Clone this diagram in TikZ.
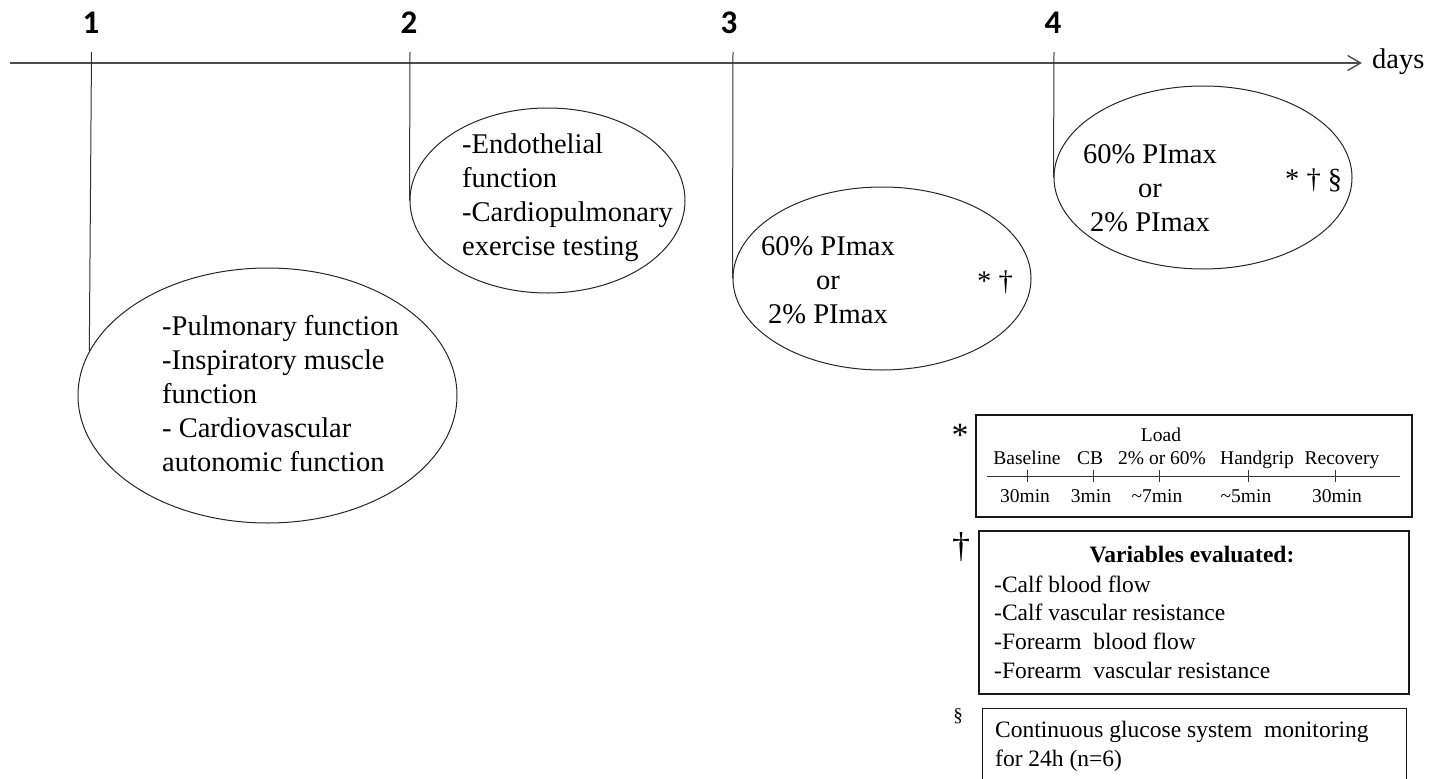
\documentclass[tikz,border=0pt]{standalone}
\usepackage{fontspec}
\setmainfont{Liberation Serif}
\newfontfamily\numfont{Carlito Bold}
\usetikzlibrary{arrows.meta,shapes.geometric}
\begin{document}
\begin{tikzpicture}[x=1pt,y=-1pt,
  evt/.style={ellipse,draw=black!85,line width=1pt,inner sep=0pt},
  stem/.style={draw=black!80,line width=1pt},
  axisline/.style={draw=black!70,line width=1.4pt,-{Straight Barb[length=13pt,width=15pt]}},
  daynum/.style={font=\numfont\fontsize{33}{33}\selectfont,inner sep=0pt,anchor=base},
  eltext/.style={font=\fontsize{28.5}{34}\selectfont,inner sep=0pt},
  sbox/.style={draw=black!90,line width=1.1pt,inner sep=0pt},
  boxlbl/.style={font=\fontsize{19.5}{23}\selectfont,inner sep=0pt,anchor=base},
  vtext/.style={font=\fontsize{23.5}{28.8}\selectfont,inner sep=0pt},
  tickline/.style={draw=black!80,line width=1pt},
]
\useasboundingbox (0,0) rectangle (1436,779);

% day numbers
\node[daynum] (n1) at (91,33) {1};
\node[daynum] (n2) at (409,33) {2};
\node[daynum] (n3) at (729,33) {3};
\node[daynum] (n4) at (1053,33) {4};

% time axis
\coordinate (ax0) at (10,63);
\coordinate (ax1) at (1362,63);
\draw[axisline] (ax0) -- (ax1);
\node[eltext,anchor=base west] (days) at (1372,68) {days};

% ellipses
\node[evt,minimum width=379,minimum height=255] (e1) at (267.5,395.5) {};
\node[evt,minimum width=275,minimum height=185] (e2) at (547.5,200.5) {};
\node[evt,minimum width=298,minimum height=183] (e3) at (882,278.5) {};
\node[evt,minimum width=298,minimum height=183] (e4) at (1203,177.5) {};

% stems
\coordinate (s1) at (91.5,52);
\coordinate (s2) at (410,52);
\coordinate (s3) at (733,52);
\coordinate (s4) at (1054,52);
\draw[stem] (s1) -- (e1.166);
\draw[stem] (s2) -- (e2.west);
\draw[stem] (s3) -- (e3.west);
\draw[stem] (s4) -- (e4.west);

% ellipse texts
\node[eltext,anchor=west,align=left] (t1) at (162,396.6)
  {\strut-Pulmonary function\\\strut-Inspiratory muscle\\\strut function\\\strut- Cardiovascular\\\strut autonomic function};
\node[eltext,anchor=west,align=left] (t2) at (462,197.2)
  {\strut-Endothelial\\\strut function\\\strut-Cardiopulmonary\\\strut exercise testing};
\node[eltext,align=center] (t3) at (828,282.2)
  {\strut 60\% PImax\\\strut or\\\strut 2\% PImax};
\node[eltext,anchor=base west] (m3) at (977,290) {* †};
\node[eltext,align=center] (t4) at (1150,190.6)
  {\strut 60\% PImax\\\strut or\\\strut 2\% PImax};
\node[eltext,anchor=base west] (m4) at (1285,188) {* † §};

% box * : protocol timeline
\node[font=\fontsize{34}{34}\selectfont,inner sep=0pt,anchor=base] (ast) at (960,446) {*};
\node[sbox,minimum width=436,minimum height=102] (bx1) at (1194,466) {};
\coordinate (tl0) at (987,476);
\coordinate (tl1) at (1400,476);
\draw[tickline] (tl0) -- (tl1);
\foreach \tx in {1027,1093,1159,1248,1335}
  \draw[tickline] (\tx,470) -- (\tx,482);
\node[boxlbl] (lload) at (1161,441) {Load};
\node[boxlbl] (lbase) at (1027,464) {Baseline};
\node[boxlbl] (lcb) at (1090,464) {CB};
\node[boxlbl] (lpct) at (1162,464) {2\% or 60\%};
\node[boxlbl] (lhand) at (1257,464) {Handgrip};
\node[boxlbl] (lrec) at (1342,464) {Recovery};
\node[boxlbl] (d1) at (1025,502) {30min};
\node[boxlbl] (d2) at (1091,502) {3min};
\node[boxlbl] (d3) at (1157,502) {\textasciitilde 7min};
\node[boxlbl] (d4) at (1246,502) {\textasciitilde 5min};
\node[boxlbl] (d5) at (1337,502) {30min};

% box dagger : variables
\node[font=\fontsize{36}{36}\selectfont,inner sep=0pt,anchor=base] (dag) at (961,557.5) {†};
\node[sbox,minimum width=430,minimum height=163] (bx2) at (1194,612.5) {};
\node[vtext,font=\fontsize{23.5}{28.8}\selectfont\bfseries,anchor=base] (vhead) at (1192,562) {Variables evaluated:};
\node[vtext,anchor=west,align=left] (vlist) at (994,629.5)
  {\strut-Calf blood flow\\\strut-Calf vascular resistance\\\strut-Forearm\ \ blood flow\\\strut-Forearm\ \ vascular resistance};

% box section : glucose
\node[font=\fontsize{19}{19}\selectfont,inner sep=0pt,anchor=base] (sect) at (958,721) {§};
\node[sbox,minimum width=424,minimum height=92,anchor=north west] (bx3) at (982,708) {};
\node[vtext,anchor=west,align=left] (gtext) at (995,746.3)
  {\strut Continuous glucose system\ \ monitoring\\\strut for 24h (n=6)};
\end{tikzpicture}
\end{document}
